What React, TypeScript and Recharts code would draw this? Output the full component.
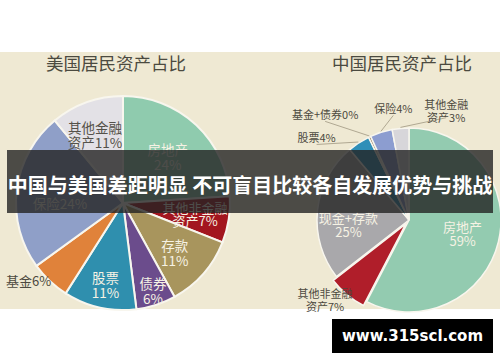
import React from 'react';
import { PieChart, Pie, Cell } from 'recharts';

// US household assets (%)
const usNames = ['房地产', '其他非金融资产', '存款', '债券', '股票', '基金', '保险', '其他金融资产'];
const usValues = [24, 7, 11, 6, 11, 6, 24, 11];
// where the label wraps: chars of name on first line, -1 = one line
const usBreaks = [3, 5, 2, 2, 2, -1, -1, 4];

// China household assets (%)
const cnNames = ['房地产', '其他非金融资产', '现金+存款', '股票', '基金+债券', '保险', '其他金融资产'];
const cnValues = [59, 7, 25, 4, 0.4, 4, 3];
const cnLabelValues = [59, 7, 25, 4, 0, 4, 3];
const cnBreaks = [3, 5, 5, -1, -1, -1, 4];

const usColors = ['#8fcbae', '#a3161f', '#a8955d', '#6b4c8c', '#2f8fae', '#e0823a', '#8f9fc8', '#e3e1e6'];
const cnColors = ['#93cbb0', '#b01e2a', '#a9a8ab', '#2f8fb8', '#8a7050', '#8c9dd0', '#d7d6da'];

type LabelStyle = { r: number; shift: number; fill: string; size: number; lh: number; line?: boolean };

const usLabelStyle: LabelStyle[] = [
  { r: 0.6, shift: -1, fill: '#f6f2e4', size: 13.5, lh: 15 },
  { r: 0.68, shift: 1, fill: '#f6f2e4', size: 13, lh: 13 },
  { r: 0.67, shift: -2.5, fill: '#f6f2e4', size: 13.5, lh: 15 },
  { r: 0.86, shift: 1, fill: '#f6f2e4', size: 13.5, lh: 15 },
  { r: 0.78, shift: 0.5, fill: '#f6f2e4', size: 13.5, lh: 15 },
  { r: 1.14, shift: -7.5, fill: '#4d4a40', size: 13, lh: 15 },
  { r: 0.59, shift: 7, fill: '#f6f2e4', size: 13.5, lh: 15 },
  { r: 0.69, shift: 2.5, fill: '#55524a', size: 13.5, lh: 15 },
];

const cnLabelStyle: LabelStyle[] = [
  { r: 0.6, shift: 0, fill: '#f6f2e4', size: 13, lh: 14 },
  { r: 1.26, shift: -6.7, fill: '#4d4a40', size: 11, lh: 13 },
  { r: 0.66, shift: 10, fill: '#f6f2e4', size: 13, lh: 14 },
  { r: 1.35, shift: 15, fill: '#4d4a40', size: 11, lh: 13, line: true },
  { r: 1.47, shift: 13, fill: '#4d4a40', size: 11, lh: 13, line: true },
  { r: 1.23, shift: -9.6, fill: '#4d4a40', size: 11, lh: 13, line: true },
  { r: 1.26, shift: -24, fill: '#4d4a40', size: 11, lh: 13, line: true },
];

const usData = usNames.map((name, i) => ({ name, value: usValues[i] }));
const cnData = cnNames.map((name, i) => ({ name, value: cnValues[i] }));

function labelLines(name: string, value: number, b: number) {
  if (b < 0) return [`${name}${value}%`];
  return [name.slice(0, b), `${name.slice(b)}${value}%`];
}

const RAD = Math.PI / 180;

function makeLabel(names: string[], values: number[], breaks: number[], styles: LabelStyle[]) {
  return (props: any) => {
    const { cx, cy, midAngle, outerRadius, index } = props;
    const st = styles[index];
    const lh = st.lh;
    const a = (midAngle + st.shift) * RAD;
    const x = cx + outerRadius * st.r * Math.cos(a);
    const y = cy - outerRadius * st.r * Math.sin(a);
    const lines = labelLines(names[index], values[index], breaks[index]);
    const y0 = y - ((lines.length - 1) * lh) / 2;
    const m = midAngle * RAD;
    return (
      <g>
        {st.line && (
          <polyline
            points={`${cx + (outerRadius + 1) * Math.cos(m)},${cy - (outerRadius + 1) * Math.sin(m)} ${x},${y + lh / 2 + 1}`}
            fill="none"
            stroke="#b0a892"
            strokeWidth={1}
          />
        )}
        <text x={x} y={y0} fill={st.fill} fontSize={st.size} textAnchor="middle" dominantBaseline="central">
          {lines.map((t, i) => (
            <tspan key={i} x={x} y={y0 + i * lh}>{t}</tspan>
          ))}
        </text>
      </g>
    );
  };
}

// exploded red slice of the China pie
const EXPLODE = 5;
const cnTotal = cnValues.reduce((s, v) => s + v, 0);
const redMid = 90 - (360 * (cnValues[0] + cnValues[1] / 2)) / cnTotal;

const US_CX = 118, US_CY = 198, US_R = 107;
const CN_CX = 404, CN_CY = 215, CN_R = 92;

export default function App() {
  const font = '"Noto Sans CJK SC", "Noto Sans", sans-serif';
  return (
    <div style={{ position: 'absolute', left: 0, top: 0, width: 500, height: 362, background: '#fff', overflow: 'hidden', fontFamily: font }}>
      <div style={{ position: 'absolute', left: 0, top: 52, width: 500, height: 257, background: '#efe9d3' }} />
      <div style={{ position: 'absolute', left: 16, top: 51, width: 200, textAlign: 'center', fontSize: 17.5, color: '#4b4a40', lineHeight: '24px' }}>
        美国居民资产占比
      </div>
      <div style={{ position: 'absolute', left: 302, top: 51, width: 200, textAlign: 'center', fontSize: 17.5, color: '#4b4a40', lineHeight: '24px' }}>
        中国居民资产占比
      </div>
      <div style={{ position: 'absolute', left: 0, top: 0 }}>
        <PieChart width={500} height={362}>
          <Pie
            data={usData}
            dataKey="value"
            nameKey="name"
            cx={US_CX}
            cy={US_CY}
            outerRadius={US_R}
            startAngle={90}
            endAngle={-270}
            stroke="#f8f6ee"
            strokeWidth={2}
            isAnimationActive={false}
            labelLine={false}
            label={makeLabel(usNames, usValues, usBreaks, usLabelStyle)}
          >
            {usData.map((d, i) => (
              <Cell key={d.name} fill={usColors[i]} />
            ))}
          </Pie>
          <Pie
            data={cnData}
            dataKey="value"
            nameKey="name"
            cx={CN_CX}
            cy={CN_CY}
            outerRadius={CN_R}
            startAngle={90}
            endAngle={-270}
            stroke="#f8f6ee"
            strokeWidth={1.5}
            isAnimationActive={false}
            labelLine={false}
            label={makeLabel(cnNames, cnLabelValues, cnBreaks, cnLabelStyle)}
          >
            {cnData.map((d, i) => (
              <Cell key={d.name} fill={i === 1 ? 'transparent' : cnColors[i]} stroke={i === 1 ? 'transparent' : '#f8f6ee'} />
            ))}
          </Pie>
          <Pie
            data={cnData}
            dataKey="value"
            nameKey="name"
            cx={CN_CX + EXPLODE * Math.cos(redMid * RAD)}
            cy={CN_CY - EXPLODE * Math.sin(redMid * RAD)}
            outerRadius={CN_R}
            startAngle={90}
            endAngle={-270}
            isAnimationActive={false}
            label={false}
            labelLine={false}
          >
            {cnData.map((d, i) => (
              <Cell key={d.name} fill={i === 1 ? cnColors[1] : 'transparent'} stroke={i === 1 ? '#f8f6ee' : 'transparent'} strokeWidth={1.5} />
            ))}
          </Pie>
        </PieChart>
      </div>
      <div
        style={{
          position: 'absolute', left: 7, top: 150, width: 486, height: 63,
          background: 'rgba(35,35,35,0.8)', color: '#fff', fontWeight: 700, fontSize: 20,
          lineHeight: '63px', textAlign: 'center', whiteSpace: 'nowrap', paddingTop: 3, boxSizing: 'border-box',
        }}
      >
        中国与美国差距明显 不可盲目比较各自发展优势与挑战
      </div>
      <div
        style={{
          position: 'absolute', left: 332, top: 319, width: 161, height: 34, background: '#000',
          color: '#fff', fontFamily: '"DejaVu Sans", sans-serif', fontWeight: 700, fontSize: 15,
          lineHeight: '34px', textAlign: 'center',
        }}
      >
        www.315scl.com
      </div>
    </div>
  );
}
